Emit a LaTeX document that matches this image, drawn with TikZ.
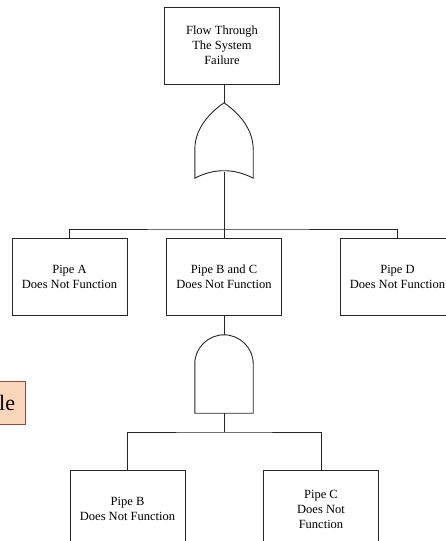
\documentclass[tikz,border=0pt]{standalone}
\usepackage{fontspec}
\setmainfont{Liberation Serif}
\usetikzlibrary{positioning,calc}
\definecolor{tagfill}{HTML}{F9D6BA}
\definecolor{tagedge}{HTML}{A2453C}
\definecolor{ink}{HTML}{262626}

\begin{document}
\begin{tikzpicture}[
  x=1pt,y=-1pt,font=\fontsize{12.5}{15}\selectfont,
  ev/.style={draw=ink,line width=0.9pt,minimum width=115pt,minimum height=77pt,align=center,inner sep=0pt},
  gt/.style={inner sep=0pt,minimum width=58pt},
  ln/.style={draw=ink,line width=0.9pt},
  tagbox/.style={draw=tagedge,fill=tagfill,line width=0.9pt,minimum height=43pt,font=\fontsize{22}{22}\selectfont}
]
\useasboundingbox (0,0) rectangle (446,541);
\clip (0,0) rectangle (446,541);
% events
\node[ev] (top) at (222,45.5) {Flow Through\\The System\\Failure};
\node[ev] (pa) at (69.5,277) {Pipe A\\Does Not Function};
\node[ev] (pbc) at (224,277) {Pipe B and C\\Does Not Function};
\node[ev] (pd) at (397.5,277) {Pipe D\\Does Not Function};
\node[ev] (pb) at (127.5,509) {Pipe B\\Does Not Function};
\node[ev] (pc) at (321,509) {Pipe C\\Does Not\\Function};
% gates
\node[gt,minimum height=69pt] (orgt) at (224,137.5) {};
\node[gt,minimum height=78pt] (andgt) at (224,374) {};
\draw[ln] ($(orgt.south west)+(0,6)$) -- ($(orgt.west)+(0,12)$)
  .. controls +(0,-24) and +(-10,7) .. (orgt.north)
  .. controls +(10,7) and +(0,-24) .. ($(orgt.east)+(0,12)$)
  -- ($(orgt.south east)+(0,6)$)
  .. controls +(-19,-10) and +(19,-10) .. cycle;
\draw[ln] (andgt.south west) -- ($(andgt.west)+(0,-10.5)$)
  .. controls +(0,-15.7) and +(-15.7,0) .. (andgt.north)
  .. controls +(15.7,0) and +(0,-15.7) .. ($(andgt.east)+(0,-10.5)$)
  -- (andgt.south east) -- cycle;
\coordinate (bus1) at (224,229);
\coordinate (bus2) at (224,432);
% connectors
\draw[ln] (orgt.north |- top.south) -- (orgt.north);
\draw[ln] (orgt.south) -- (pbc.north);
\draw[ln] (pa.north) |- (bus1) -| (pd.north);
\draw[ln] (pbc.south) -- (andgt.north);
\draw[ln] (andgt.south) -- (bus2);
\draw[ln] (pb.north) |- (bus2) -| (pc.north);
% cut-off slide tag
\node[tagbox,anchor=east,inner xsep=10.5pt] (tag) at (26,402.5) {le};
\end{tikzpicture}
\end{document}
